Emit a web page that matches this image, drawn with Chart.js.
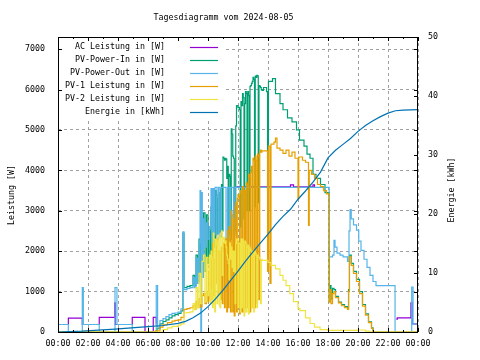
<!DOCTYPE html>
<html><head><meta charset="utf-8">
<script src="https://cdn.jsdelivr.net/npm/chart.js@4/dist/chart.umd.min.js"></script>
<style>html,body{margin:0;padding:0;background:#fff;}canvas{display:block;}</style>
</head><body>
<canvas id="c" width="480" height="360"></canvas>
<script>
// ---------- data (hour of day, value) ----------
const chartTitle = 'Tagesdiagramm vom 2024-08-05';
const seriesNames = ['AC Leistung in [W]','PV-Power-In in [W]','PV-Power-Out in [W]','PV-1 Leistung in [W]','PV-2 Leistung in [W]','Energie in [kWh]'];
const seriesColors = ['#9400d3','#009e73','#56b4e9','#e69f00','#f0e442','#0072b2'];
const xTickHours = [0,2,4,6,8,10,12,14,16,18,20,22,24];
const powerTicks = [0,1000,2000,3000,4000,5000,6000,7000];
const energyTicks = [0,10,20,30,40,50];

const acPower = [[0,186],[0.69,345],[1.62,186],[2.75,360],[3.78,720],[3.82,186],[4.95,360],[5.8,0],[6.35,360],[6.55,186],[6.64,null],
 [11.9,3590],[15.5,3640],[15.7,3590],[17.0,3640],[17.1,3590],[18.08,null],[19.6,2950],[19.67,null],
 [22.55,320],[22.62,350],[23.53,720],[23.62,200],[24,200]];

const pvIn = [[0,0],[6.6,80],[6.8,200],[7.0,260],[7.2,300],[7.4,350],[7.6,400],[7.8,430],[8.0,460],[8.2,520],[8.33,2450],[8.4,1100],[8.6,1130],[8.8,1150],
 [9.0,1400],[9.1,1150],[9.2,1900],[9.3,1250],[9.4,2300],[9.5,1400],[9.6,2700],[9.7,2950],[9.8,1500],[9.9,2900],
 [10.00,1700],[10.05,2600],[10.10,2500],[10.15,1800],[10.20,3100],[10.25,2900],[10.30,1900],[10.35,3400],[10.40,3300],[10.45,2100],
 [10.50,3500],[10.55,3400],[10.60,2400],[10.65,3300],[10.70,3450],[10.75,2500],[10.80,2450],[10.85,3550],[10.90,3650],[10.95,2500],
 [11.00,4330],[11.05,4300],[11.10,4250],[11.15,4300],[11.20,4280],[11.25,3800],[11.30,4100],[11.35,2400],[11.40,3900],[11.45,3850],
 [11.50,2300],[11.55,5030],[11.60,4900],[11.65,4350],[11.70,4300],[11.75,2500],[11.80,3000],[11.85,5100],[11.90,5600],[11.95,5600],
 [12.00,5550],[12.05,5560],[12.10,5500],[12.15,2600],[12.20,5700],[12.25,5600],[12.30,5900],[12.35,5800],[12.40,2800],[12.45,5650],
 [12.50,5950],[12.55,5900],[12.60,3000],[12.65,5950],[12.70,5850],[12.75,3000],[12.80,6080],[12.85,6100],[12.90,6150],[12.95,6200],
 [13.00,6300],[13.05,6250],[13.10,3100],[13.15,6330],[13.20,6300],[13.25,6350],[13.30,6340],[13.35,3200],[13.40,6100],[13.45,6080],
 [13.50,6050],[13.55,6000],[13.60,5980],[13.7,6050],[13.9,5950],[13.97,3500],
 [14.03,6200],[14.3,6270],[14.5,5900],[14.8,5650],[15.0,5500],[15.3,5300],[15.6,5200],[15.9,5000],[16.1,4750],[16.4,4600],[16.6,4400],[16.8,4300],
 [17.0,3900],[17.2,3800],[17.5,3650],[17.8,3450],[18.08,780],[18.15,1150],[18.2,820],[18.3,1080],[18.4,1050],[18.5,880],[18.7,740],[18.9,680],[19.1,630],
 [19.3,590],[19.37,1050],[19.43,1900],[19.55,1700],[19.7,1500],[19.9,1300],[20.1,1000],[20.3,680],[20.5,450],[20.7,250],[20.9,100],[21.0,0],[24,0]];

const pvOut = [[0,186],[0.69,0],[1.62,1100],[1.69,186],[2.75,0],[3.80,1100],[3.93,186],[4.95,0],[6.55,1150],[6.64,120],[6.8,285],[7.0,330],[7.2,380],
 [7.4,430],[7.6,460],[7.8,470],[8.0,490],[8.2,575],[8.33,2480],[8.4,1050],[8.6,1080],[8.8,1100],[9.0,1350],[9.1,1100],[9.2,1830],[9.3,1200],[9.4,2200],
 [9.47,3500],[9.52,0],[9.57,3450],[9.62,1350],[9.7,2800],[9.8,2100],[9.9,2700],[10.0,2300],[10.1,2600],[10.2,3550],[10.27,2200],[10.35,3550],[10.42,2400],
 [10.47,3580],[10.6,2300],[10.7,3580],[10.8,2350],[10.9,3580],[11.2,2300],[11.3,3580],[11.4,2270],[11.5,3580],[11.7,2400],[11.8,3580],[14.0,3580],[18.08,1860],
 [18.3,1900],[18.4,2270],[18.47,2100],[18.6,1950],[18.8,1900],[19.0,1860],[19.3,1750],[19.4,2500],[19.47,3030],[19.55,2800],[19.7,2650],[19.9,2520],
 [20.05,2250],[20.2,2020],[20.4,1800],[20.6,1600],[20.8,1400],[21.0,1250],[21.2,1150],[22.47,0],[23.58,1110],[23.67,200],[24,200]];

const pv1 = [[0,0],[6.5,30],[6.8,120],[7.0,180],[7.3,230],[7.6,270],[7.8,290],[8.0,300],[8.2,360],[8.4,560],[8.6,580],[8.8,600],[9.0,650],[9.1,560],
 [9.2,750],[9.3,600],[9.4,820],[9.5,620],[9.6,900],[9.7,950],[9.8,700],[9.9,1000],
 [10.00,750],[10.05,1500],[10.10,1600],[10.15,800],[10.20,1100],[10.25,1900],[10.30,2200],[10.35,900],[10.40,1700],[10.45,1800],
 [10.50,1200],[10.55,2100],[10.60,2300],[10.65,900],[10.70,1000],[10.75,2000],[10.80,1900],[10.85,800],[10.90,2100],[10.95,700],
 [11.00,2000],[11.05,2200],[11.10,600],[11.15,2300],[11.20,2300],[11.25,500],[11.30,2500],[11.35,600],[11.40,2600],[11.45,2500],
 [11.50,500],[11.55,3000],[11.60,2900],[11.65,500],[11.70,2800],[11.75,400],[11.80,3100],[11.85,3200],[11.90,500],[11.95,3300],
 [12.00,3400],[12.05,3350],[12.10,450],[12.15,3500],[12.20,3450],[12.25,500],[12.30,3600],[12.35,3550],[12.40,500],[12.45,3500],
 [12.50,600],[12.55,3700],[12.60,3650],[12.65,600],[12.70,3900],[12.75,3850],[12.80,500],[12.85,3950],[12.90,4100],[12.95,600],
 [13.00,4300],[13.05,4250],[13.10,600],[13.15,4350],[13.20,4250],[13.25,700],[13.30,4400],[13.35,4350],[13.40,800],[13.45,4450],
 [13.50,4500],[13.55,4450],[13.60,4480],[13.9,4480],[13.97,1500],[14.03,4600],[14.13,1200],
 [14.2,4650],[14.4,4700],[14.5,4800],[14.6,4550],[14.8,4500],[15.0,4420],[15.2,4500],[15.4,4350],[15.6,4450],[15.8,4300],[16.0,3300],[16.05,4330],
 [16.3,4250],[16.5,4200],[16.7,2640],[16.75,4000],[16.9,3900],[17.1,3800],[17.3,3650],[17.5,3600],[17.7,3500],[17.9,3420],[18.08,740],[18.15,1050],
 [18.2,700],[18.3,950],[18.4,1000],[18.5,850],[18.7,720],[18.9,650],[19.1,600],[19.3,560],[19.37,1000],[19.43,1860],[19.55,1650],[19.7,1450],[19.9,1250],
 [20.1,950],[20.3,640],[20.5,420],[20.7,230],[20.9,90],[21.0,0],[24,0]];

const pv2 = [[0,0],[6.8,0],[7.0,60],[7.3,100],[7.6,140],[8.0,170],[8.2,200],[8.4,470],[8.6,480],[8.8,500],[9.0,700],[9.1,550],[9.2,1100],[9.3,600],
 [9.4,1450],[9.5,700],[9.6,1750],[9.7,1900],[9.8,750],[9.9,1850],
 [10.00,900],[10.05,1000],[10.10,1900],[10.15,700],[10.20,2000],[10.25,1800],[10.30,600],[10.35,2450],[10.40,2300],[10.45,500],
 [10.50,2300],[10.55,2200],[10.60,700],[10.65,2400],[10.70,2350],[10.75,650],[10.80,600],[10.85,2450],[10.90,2500],[10.95,1400],
 [11.00,2300],[11.05,2350],[11.10,2200],[11.15,2250],[11.20,2100],[11.25,1900],[11.30,1800],[11.35,1700],[11.40,1300],[11.45,2200],
 [11.50,1800],[11.55,2100],[11.60,1600],[11.65,2000],[11.70,1500],[11.75,2000],[11.80,700],[11.85,2200],[11.90,2300],[11.95,2300],
 [12.00,600],[12.05,2200],[12.10,2200],[12.15,500],[12.20,2300],[12.25,600],[12.30,2300],[12.35,2150],[12.40,400],[12.45,2250],
 [12.50,2200],[12.55,500],[12.60,2100],[12.65,2150],[12.70,450],[12.75,2100],[12.80,2050],[12.85,2000],[12.90,600],[12.95,2000],
 [13.00,1950],[13.05,500],[13.10,2000],[13.15,1950],[13.20,1900],[13.25,600],[13.30,1900],[13.35,1850],[13.40,1850],[13.45,1800],
 [13.50,700],[13.55,1800],[13.60,1770],[14.0,1720],[14.2,1650],[14.5,1560],[14.8,1400],[15.0,1280],
 [15.2,1150],[15.45,950],[15.7,750],[16.0,580],[16.13,530],[16.5,350],[16.8,210],[17.1,120],[17.47,60],[18.0,40],[19.0,40],[20.0,50],[20.5,20],[20.8,0],[24,0]];

const energyKWh = [[0,0],[1.6,0.15],[3.8,0.5],[6.0,0.9],[7.0,1.1],[8.0,1.45],[8.5,1.8],[9.0,2.4],[9.5,3.2],[10.0,4.3],[10.5,5.6],[11.0,7.1],[11.5,8.7],
 [12.0,10.3],[12.5,12.0],[13.0,13.6],[13.5,15.1],[14.0,16.6],[14.5,18.2],[15.0,19.6],[15.5,20.8],[16.0,22.5],[16.5,23.9],[17.0,25.4],[17.5,27.1],
 [18.0,29.5],[18.5,30.8],[19.0,31.8],[19.5,32.8],[20.0,34.0],[20.5,35.0],[21.0,35.8],[21.5,36.5],[22.0,37.1],[22.5,37.5],[23.0,37.6],[24,37.7]];

// ---------- chart ----------
const FONT = "'DejaVu Sans Mono', monospace";
const FSIZE = 8.3;
const toXY = arr => arr.map(p => ({x: p[0], y: p[1]}));
const allSeries = [acPower, pvIn, pvOut, pv1, pv2, energyKWh];

const datasets = allSeries.map((s, i) => ({
  label: seriesNames[i],
  data: toXY(s),
  borderColor: seriesColors[i],
  backgroundColor: seriesColors[i],
  borderWidth: 1.2,
  pointRadius: 0,
  stepped: i === 5 ? false : true,
  fill: false,
  spanGaps: false,
  order: 6 - i,
  yAxisID: i === 5 ? 'y2' : 'y'
}));

const LEG = {textRight: 165, lineX0: 190, lineX1: 218, y0: 46.7, dy: 13.1, box: [59, 38, 167, 81]};

const gnuplotLook = {
  id: 'gnuplotLook',
  beforeDatasetsDraw(chart) {
    const ctx = chart.ctx;
    ctx.save();
    ctx.fillStyle = '#fff';
    ctx.fillRect(...LEG.box);
    ctx.restore();
  },
  afterDraw(chart) {
    const ctx = chart.ctx, a = chart.chartArea;
    const sx = chart.scales.x, sy = chart.scales.y, sy2 = chart.scales.y2;
    ctx.save();
    ctx.strokeStyle = '#000'; ctx.lineWidth = 1;
    ctx.strokeRect(Math.round(a.left) + 0.5, Math.round(a.top) + 0.5, Math.round(a.right - a.left) - 1, Math.round(a.bottom - a.top));
    ctx.beginPath();
    powerTicks.forEach(v => {
      const y = Math.round(sy.getPixelForValue(v)) + 0.5;
      ctx.moveTo(a.left, y); ctx.lineTo(a.left + 4, y);
      ctx.moveTo(a.right, y); ctx.lineTo(a.right - 4, y);
    });
    energyTicks.forEach(v => {
      const y = Math.round(sy2.getPixelForValue(v)) + 0.5;
      ctx.moveTo(a.right, y); ctx.lineTo(a.right - 4, y);
    });
    for (let h = 0; h <= 24; h++) {
      const x = Math.round(sx.getPixelForValue(h)) + 0.5;
      const len = h % 2 === 0 ? 4 : 2;
      ctx.moveTo(x, a.bottom); ctx.lineTo(x, a.bottom - len);
      ctx.moveTo(x, a.top); ctx.lineTo(x, a.top + len);
    }
    ctx.stroke();
    ctx.fillStyle = '#000';
    ctx.font = FSIZE + 'px ' + FONT;
    ctx.textAlign = 'center'; ctx.textBaseline = 'middle';
    ctx.fillText(chartTitle, 223.5, 18);
    ctx.save(); ctx.translate(12, 195); ctx.rotate(-Math.PI / 2); ctx.fillText('Leistung [W]', 0, 0); ctx.restore();
    ctx.save(); ctx.translate(452, 190); ctx.rotate(-Math.PI / 2); ctx.fillText('Energie [kWh]', 0, 0); ctx.restore();
    seriesNames.forEach((n, i) => {
      const y = LEG.y0 + LEG.dy * i;
      ctx.textAlign = 'right';
      ctx.fillStyle = '#000';
      ctx.fillText(n, LEG.textRight, y);
      ctx.beginPath();
      ctx.strokeStyle = seriesColors[i]; ctx.lineWidth = 1.2;
      ctx.moveTo(LEG.lineX0, Math.round(y) + 0.5); ctx.lineTo(LEG.lineX1, Math.round(y) + 0.5);
      ctx.stroke();
    });
    ctx.restore();
  }
};

const tickFont = {family: FONT, size: FSIZE};
const gridOpts = {color: '#a0a0a0', lineWidth: 1, drawTicks: false};

new Chart(document.getElementById('c'), {
  type: 'line',
  data: {datasets},
  options: {
    responsive: false, animation: false, devicePixelRatio: 1,
    layout: {padding: {top: 37, left: 0, right: 0, bottom: 0}},
    plugins: {legend: {display: false}, tooltip: {enabled: false}, title: {display: false}},
    scales: {
      x: {
        type: 'linear', min: 0, max: 24, position: 'bottom',
        grid: gridOpts, border: {display: false, dash: [3, 3]},
        afterBuildTicks: s => { s.ticks = xTickHours.map(v => ({value: v})); },
        afterFit: s => { s.height = 28; },
        ticks: {font: tickFont, color: '#000', padding: 7, maxRotation: 0, autoSkip: false,
          callback: v => String(v % 24).padStart(2, '0') + ':00'}
      },
      y: {
        type: 'linear', min: 0, max: 7300, position: 'left',
        grid: gridOpts, border: {display: false, dash: [3, 3]},
        afterBuildTicks: s => { s.ticks = powerTicks.map(v => ({value: v})); },
        afterFit: s => { s.width = 58; },
        ticks: {font: tickFont, color: '#000', padding: 13, callback: v => String(v)}
      },
      y2: {
        type: 'linear', min: 0, max: 50, position: 'right',
        grid: {display: false, drawTicks: false}, border: {display: false},
        afterBuildTicks: s => { s.ticks = energyTicks.map(v => ({value: v})); },
        afterFit: s => { s.width = 62; },
        ticks: {font: tickFont, color: '#000', padding: 10, callback: v => String(v)}
      }
    }
  },
  plugins: [gnuplotLook]
});
</script>
</body></html>
